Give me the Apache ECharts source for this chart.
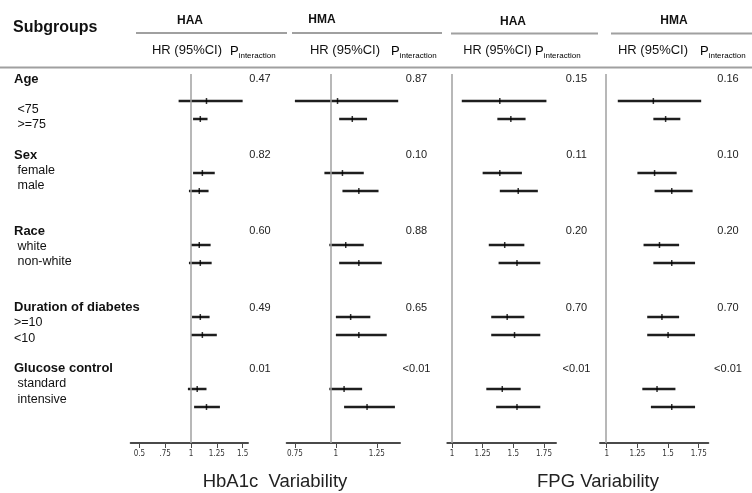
<!DOCTYPE html>
<html>
<head>
<meta charset="utf-8">
<script src="https://cdn.jsdelivr.net/npm/echarts@6/dist/echarts.min.js"></script>
<style>
  html, body { margin: 0; padding: 0; background: #fff; }
  #chart { width: 752px; height: 493px; }
</style>
</head>
<body>
<div id="chart"></div>
<script>
// left text column, one entry per text line (blank lines kept as in the figure)
const textLines = ['Age', '', ' <75', ' >=75', '', 'Sex', ' female', ' male', '', '',
  'Race', ' white', ' non-white', '', '', 'Duration of diabetes', '>=10', '<10', '',
  'Glucose control', ' standard', ' intensive'];
const groupNames = ['Age', 'Sex', 'Race', 'Duration of diabetes', 'Glucose control'];

// subgroup order: <75, >=75, female, male, white, non-white, >=10, <10, standard, intensive
// HbA1c variability - HAA
const hbaHaaHr = [1.15, 1.09, 1.11, 1.08, 1.08, 1.09, 1.09, 1.11, 1.06, 1.15];
const hbaHaaLo = [0.88, 1.02, 1.02, 0.98, 1.00, 0.98, 1.01, 1.00, 0.97, 1.03];
const hbaHaaHi = [1.50, 1.16, 1.23, 1.17, 1.19, 1.20, 1.18, 1.25, 1.15, 1.28];
const hbaHaaP = ['0.47', '0.82', '0.60', '0.49', '0.01'];
// HbA1c variability - HMA
const hbaHmaHr = [1.01, 1.10, 1.04, 1.14, 1.06, 1.14, 1.09, 1.14, 1.05, 1.19];
const hbaHmaLo = [0.75, 1.02, 0.93, 1.04, 0.96, 1.02, 1.00, 1.00, 0.96, 1.05];
const hbaHmaHi = [1.38, 1.19, 1.17, 1.26, 1.17, 1.28, 1.21, 1.31, 1.16, 1.36];
const hbaHmaP = ['0.87', '0.10', '0.88', '0.65', '<0.01'];
// FPG variability - HAA
const fpgHaaHr = [1.39, 1.48, 1.39, 1.54, 1.43, 1.53, 1.45, 1.51, 1.41, 1.53];
const fpgHaaLo = [1.08, 1.37, 1.25, 1.39, 1.30, 1.38, 1.32, 1.32, 1.28, 1.36];
const fpgHaaHi = [1.77, 1.60, 1.57, 1.70, 1.59, 1.72, 1.59, 1.72, 1.56, 1.72];
const fpgHaaP = ['0.15', '0.11', '0.20', '0.70', '<0.01'];
// FPG variability - HMA
const fpgHmaHr = [1.38, 1.48, 1.39, 1.53, 1.43, 1.53, 1.45, 1.50, 1.41, 1.53];
const fpgHmaLo = [1.09, 1.38, 1.25, 1.39, 1.30, 1.38, 1.33, 1.33, 1.29, 1.36];
const fpgHmaHi = [1.77, 1.60, 1.57, 1.70, 1.59, 1.72, 1.59, 1.72, 1.56, 1.72];
const fpgHmaP = ['0.16', '0.10', '0.20', '0.70', '<0.01'];

// x tick values / labels per panel
const ticks1 = [0.5, 0.75, 1, 1.25, 1.5];
const tickLabels1 = ['0.5', '.75', '1', '1.25', '1.5'];
const ticks2 = [0.75, 1, 1.25];
const tickLabels2 = ['0.75', '1', '1.25'];
const ticks3 = [1, 1.25, 1.5, 1.75];
const tickLabels3 = ['1', '1.25', '1.5', '1.75'];

const panels = [
  { hr: hbaHaaHr, lo: hbaHaaLo, hi: hbaHaaHi, p: hbaHaaP, ticks: ticks1, tl: tickLabels1,
    min: 0.416, max: 1.552, ref: 1, left: 130.7, right: 504, pX: 260 },
  { hr: hbaHmaHr, lo: hbaHmaLo, hi: hbaHmaHi, p: hbaHmaP, ticks: ticks2, tl: tickLabels2,
    min: 0.70, max: 1.391, ref: 0.97, left: 286.7, right: 352, pX: 416.5 },
  { hr: fpgHaaHr, lo: fpgHaaLo, hi: fpgHaaHi, p: fpgHaaP, ticks: ticks3, tl: tickLabels3,
    min: 0.962, max: 1.848, ref: 1, left: 447.3, right: 196, pX: 576.5 },
  { hr: fpgHmaHr, lo: fpgHmaLo, hi: fpgHmaHi, p: fpgHmaP, ticks: ticks3, tl: tickLabels3,
    min: 0.945, max: 1.828, ref: 0.992, left: 600, right: 43.7, pX: 728 }
];

// each group takes 4 rows: header, two subgroups, gap
const rowOf = k => 4 * Math.floor(k / 2) + 1 + (k % 2);
const FONT = 'Liberation Sans, Arial, sans-serif';
const LINE_TOP = 71.4, LINE_H = 335.3;

const chart = echarts.init(document.getElementById('chart'), null, { renderer: 'canvas' });

const grid = [], xAxis = [], yAxis = [], series = [];

panels.forEach((pn, i) => {
  grid.push({ left: pn.left, right: pn.right, top: 74, height: 369 });
  xAxis.push({
    type: 'value', gridIndex: i, min: pn.min, max: pn.max, position: 'bottom',
    splitLine: { show: false },
    axisLine: { onZero: false, lineStyle: { color: '#4a4a4a', width: 2 } },
    axisTick: { customValues: pn.ticks, length: 5, lineStyle: { color: '#4a4a4a', width: 1 } },
    axisLabel: {
      customValues: pn.ticks,
      formatter: v => pn.tl[pn.ticks.indexOf(v)],
      fontSize: 8, color: '#333', margin: 7,
      fontFamily: 'Liberation Sans Narrow, DejaVu Sans Condensed, sans-serif'
    }
  });
  yAxis.push({ type: 'value', gridIndex: i, min: -0.5, max: 20, inverse: true, show: false });

  series.push({
    type: 'scatter', xAxisIndex: i, yAxisIndex: i, data: [], z: 1,
    markLine: {
      silent: true, symbol: 'none', label: { show: false },
      lineStyle: { color: '#a0a0a0', width: 1.5, type: 'solid' },
      data: [{ xAxis: pn.ref }]
    }
  });
  series.push({
    type: 'custom', xAxisIndex: i, yAxisIndex: i, z: 2,
    data: pn.lo.map((l, k) => [l, pn.hi[k], rowOf(k)]),
    encode: { x: [0, 1], y: 2 },
    renderItem: (params, api) => {
      const a = api.coord([api.value(0), api.value(2)]);
      const b = api.coord([api.value(1), api.value(2)]);
      return {
        type: 'line',
        shape: { x1: a[0], y1: a[1], x2: b[0], y2: b[1] },
        style: { stroke: '#1e1e1e', lineWidth: 2.5 }
      };
    }
  });
  series.push({
    type: 'scatter', xAxisIndex: i, yAxisIndex: i, z: 3,
    symbol: 'rect', symbolSize: [1.5, 6],
    itemStyle: { color: '#000' },
    data: pn.hr.map((h, k) => [h, rowOf(k)])
  });
});

// left text column
const idx = textLines.map((_, k) => String(k));
grid.push({ left: 14, width: 1, top: LINE_TOP, height: LINE_H });
xAxis.push({ type: 'value', gridIndex: 4, show: false });
yAxis.push({
  type: 'category', gridIndex: 4, data: idx, inverse: true,
  axisLine: { show: false }, axisTick: { show: false },
  axisLabel: {
    interval: 0, align: 'left', margin: 0,
    formatter: (v, k) => {
      const t = textLines[k];
      if (!t) return '';
      return groupNames.includes(t) ? '{b|' + t + '}' : '{n|' + t + '}';
    },
    rich: {
      b: { fontSize: 13, fontWeight: 'bold', color: '#111', fontFamily: FONT },
      n: { fontSize: 12.5, color: '#111', fontFamily: FONT }
    }
  }
});

// p for interaction columns
panels.forEach((pn, i) => {
  const gi = 5 + i;
  grid.push({ left: pn.pX, width: 1, top: LINE_TOP, height: LINE_H });
  xAxis.push({ type: 'value', gridIndex: gi, show: false });
  yAxis.push({
    type: 'category', gridIndex: gi, data: idx, inverse: true,
    axisLine: { show: false }, axisTick: { show: false },
    axisLabel: {
      interval: 0, align: 'center', margin: 0,
      fontSize: 11, color: '#222', fontFamily: FONT,
      formatter: (v, k) => {
        const g = groupNames.indexOf(textLines[k]);
        return g >= 0 ? pn.p[g] : '';
      }
    }
  });
});

const txt = (text, x, y, opt) => ({
  type: 'text', x: x, y: y, silent: true,
  style: Object.assign({ text: text, fill: '#111', fontFamily: FONT, fontSize: 13,
    align: 'center', verticalAlign: 'middle' }, opt || {})
});
const hline = (x1, x2, y, w, c) => ({
  type: 'line', silent: true,
  shape: { x1: x1, y1: y, x2: x2, y2: y },
  style: { stroke: c || '#a0a0a0', lineWidth: w || 2 }
});
const pInt = x => ({
  type: 'text', x: x, y: 51, silent: true,
  style: {
    text: '{p|P}{s|interaction}', align: 'left', verticalAlign: 'middle',
    rich: {
      p: { fontSize: 13, fontFamily: FONT, color: '#111', lineHeight: 18, verticalAlign: 'middle' },
      s: { fontSize: 8, fontFamily: FONT, color: '#111', lineHeight: 10, verticalAlign: 'bottom' }
    }
  }
});

const graphic = [
  txt('Subgroups', 13, 28, { fontSize: 16, fontWeight: 'bold', align: 'left' }),
  txt('HAA', 190, 21, { fontSize: 12, fontWeight: 'bold' }),
  txt('HMA', 322, 20, { fontSize: 12, fontWeight: 'bold' }),
  txt('HAA', 513, 22, { fontSize: 12, fontWeight: 'bold' }),
  txt('HMA', 674, 21, { fontSize: 12, fontWeight: 'bold' }),
  hline(136, 287, 33), hline(292, 442, 33), hline(451, 598, 33.5), hline(611, 752, 33.5),
  txt('HR (95%CI)', 187, 50), txt('HR (95%CI)', 345, 50),
  txt('HR (95%CI)', 497.5, 50, { fontSize: 12.7 }), txt('HR (95%CI)', 653, 50),
  pInt(230), pInt(391), pInt(535), pInt(700),
  hline(0, 752, 67.5, 2),
  txt('HbA1c  Variability', 275, 482, { fontSize: 18.5, fill: '#222' }),
  txt('FPG Variability', 598, 482, { fontSize: 18.5, fill: '#222' })
];

chart.setOption({
  backgroundColor: '#fff',
  animation: false,
  grid: grid,
  xAxis: xAxis,
  yAxis: yAxis,
  series: series,
  graphic: graphic
});
</script>
</body>
</html>
